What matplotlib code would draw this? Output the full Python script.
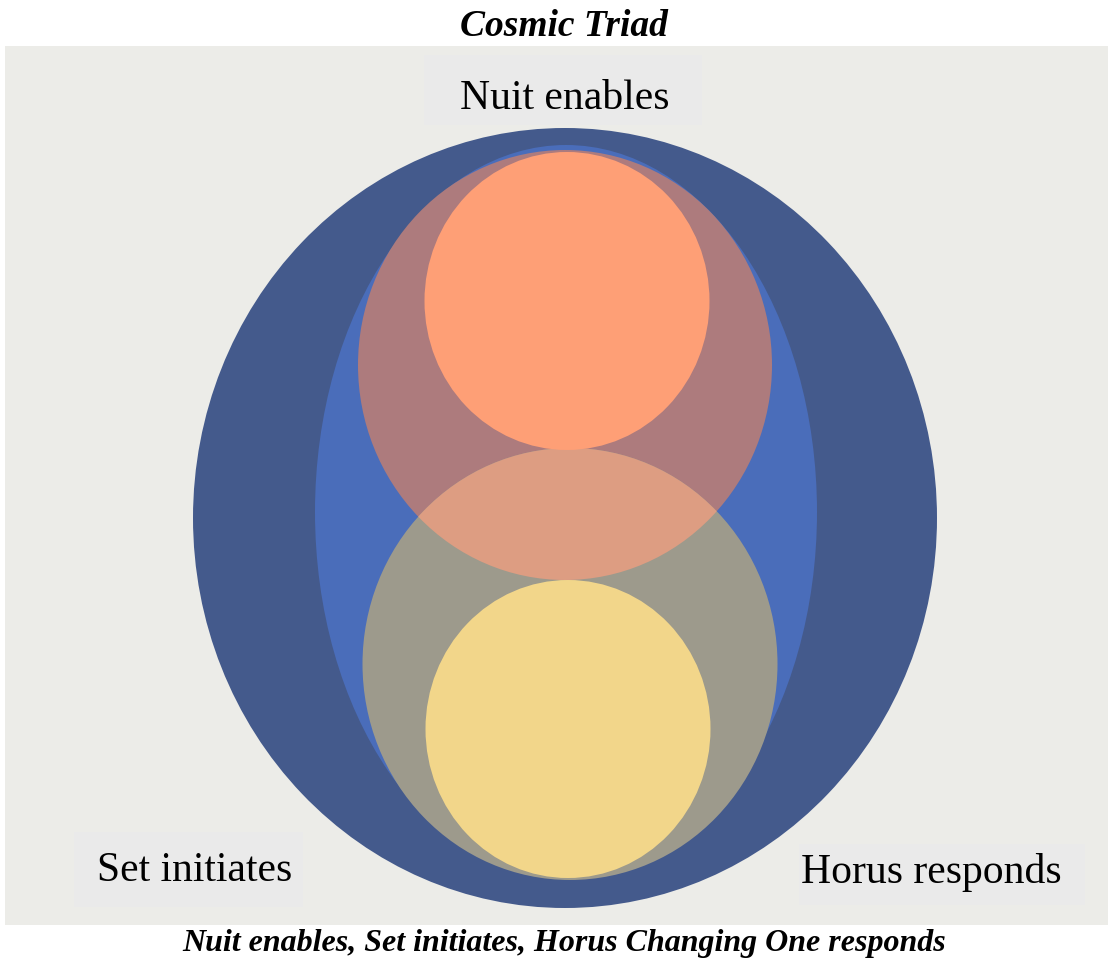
import matplotlib
matplotlib.use("Agg")
import matplotlib.pyplot as plt
from matplotlib.patches import Ellipse, Rectangle

W, H = 1112, 960
title = "Cosmic Triad"
caption = "Nuit enables, Set initiates, Horus Changing One responds"
labels = ["Nuit enables", "Set initiates", "Horus responds"]
label_pos = [(565, 99), (195, 871), (931, 873)]
label_boxes = [(424, 55, 278, 70), (74, 832, 229, 75), (799, 844, 286, 61)]

# shapes: (cx, cy, width, height, color)
shape_names = ["outer", "inner", "upper", "lower"]
shape_cx = [565, 566, 565, 570]
shape_cy = [518, 512, 365, 664]
shape_w = [744, 502, 414, 415]
shape_h = [780, 734, 430, 432]
shape_colors = ["#445A8C", "#4A6DBA", "#AD7B7D", "#9D9A8C"]
overlap_color = "#DD9D82"
core_cx = [567, 568]
core_cy = [301, 729]
core_w = [285, 285]
core_h = [298, 298]
core_colors = ["#FE9F76", "#F2D68A"]

fig = plt.figure(figsize=(W / 100, H / 100), dpi=100)
ax = fig.add_axes([0, 0, 1, 1])
ax.set_xlim(0, W)
ax.set_ylim(H, 0)
ax.axis("off")

ax.add_patch(Rectangle((5, 46), 1103, 879, facecolor="#ECECE8", edgecolor="none"))
for (x, y, w, h) in label_boxes:
    ax.add_patch(Rectangle((x, y), w, h, facecolor="#EAEAEA", edgecolor="none"))

for cx, cy, w, h, c in zip(shape_cx, shape_cy, shape_w, shape_h, shape_colors):
    ax.add_patch(Ellipse((cx, cy), w, h, facecolor=c, edgecolor="none"))

lens = Ellipse((shape_cx[2], shape_cy[2]), shape_w[2], shape_h[2], facecolor=overlap_color, edgecolor="none")
ax.add_patch(lens)
clip = Ellipse((shape_cx[3], shape_cy[3]), shape_w[3], shape_h[3], transform=ax.transData)
lens.set_clip_path(clip)

for cx, cy, w, h, c in zip(core_cx, core_cy, core_w, core_h, core_colors):
    ax.add_patch(Ellipse((cx, cy), w, h, facecolor=c, edgecolor="none"))

serif = ["Liberation Serif", "DejaVu Serif"]
for t, (x, y) in zip(labels, label_pos):
    ax.text(x, y, t, ha="center", va="center", fontsize=30, family=serif, color="black")

ax.text(564, 26, title, ha="center", va="center", fontsize=27, family=serif,
        fontweight="bold", fontstyle="italic")
ax.text(564, 943, caption, ha="center", va="center", fontsize=23, family=serif,
        fontweight="bold", fontstyle="italic")

fig.savefig("out.png", dpi=100)
